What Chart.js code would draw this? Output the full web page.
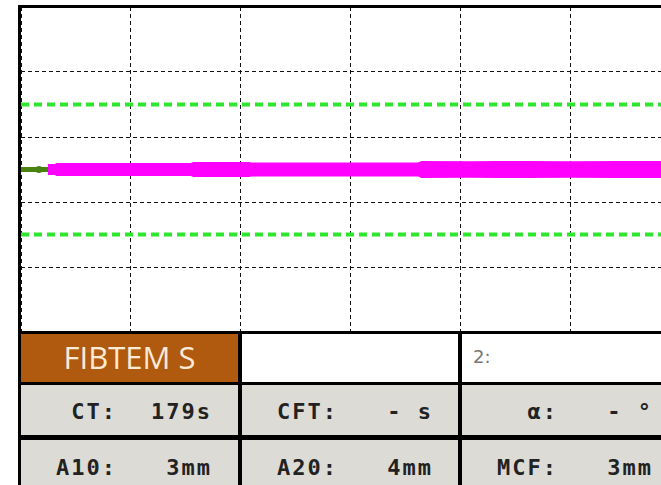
<!DOCTYPE html>
<html>
<head>
<meta charset="utf-8">
<script src="https://cdn.jsdelivr.net/npm/chart.js@4.4.1/dist/chart.umd.min.js"></script>
<style>
  body { margin: 0; background: #fff; }
  #wrap { position: relative; width: 661px; height: 485px; overflow: hidden; background: #fff; }
  #trace { position: absolute; left: 0; top: 0; }
  .blk { position: absolute; background: #000; }
  .cell { position: absolute; overflow: hidden; }
  .brown { background: #b05a10; }
  .white { background: #fff; }
  .gray { background: #dcdbd5; }
  .title { position: absolute; left: 0; width: 100%; text-align: center; font-family: "Open Sans", sans-serif; font-size: 31px; color: #fbead6; top: 2px; }
  .note { position: absolute; left: 11px; top: 12px; font-family: "DejaVu Sans", sans-serif; font-size: 18px; color: #777; }
  .lab, .val { position: absolute; font-family: "DejaVu Sans Mono", monospace; font-weight: bold; font-size: 22px; letter-spacing: 2px; color: #222; text-align: right; white-space: pre; }
</style>
</head>
<body>
<div id="wrap">
  <canvas id="trace" width="661" height="334"></canvas>
  <div class="blk" style="left:18px; top:331px; width:643px; height:154px;"></div>
  <div id="table"></div>
</div>
<script>
// time axis in seconds, amplitude in mm (mirrored round zero)
const xMax = 3491;
const xGrid = [0, 600, 1200, 1800, 2400, 3000];
const yGrid = [-50, -30, -10, 10, 30, 50];
const refLevels = [20, -20];

// before clotting starts
const preTime = [0, 98, 150];
const preAmp = [0, 0, 0];

// clot amplitude trace
const traceTime = [147, 185, 195, 930, 940, 1245, 1255, 2170, 2185, 2450, 2600, 2750, 3000, 3250, 3491];
const traceAmp = [2.7, 2.7, 3.4, 3.4, 4.0, 4.0, 3.7, 3.7, 4.6, 4.4, 4.6, 4.6, 4.5, 4.6, 4.6];

// result table
const testName = 'FIBTEM S';
const channel = '2:';
const rowLabels = [['CT:', 'CFT:', 'α:'], ['A10:', 'A20:', 'MCF:']];
const rowValues = [['179s', '- s', '- °'], ['3mm', '4mm', '3mm']];

const upper = traceTime.map((t, i) => ({ x: t, y: traceAmp[i] / 2 }));
const lower = traceTime.map((t, i) => ({ x: t, y: -traceAmp[i] / 2 }));
const pre = preTime.map((t, i) => ({ x: t, y: preAmp[i] }));

const frame = {
    id: 'frame',
    afterDraw(chart) {
        const ctx = chart.ctx;
        ctx.save();
        ctx.fillStyle = '#000';
        ctx.fillRect(18, 5, 3, chart.height);
        ctx.fillRect(18, 5, chart.width, 3);
        ctx.restore();
    }
};

new Chart(document.getElementById('trace'), {
    type: 'line',
    data: {
        datasets: [
            {
                data: upper,
                borderColor: '#ff00ff',
                backgroundColor: '#ff00ff',
                borderWidth: 2,
                pointRadius: 0,
                tension: 0,
                fill: '+1'
            },
            {
                data: lower,
                borderColor: '#ff00ff',
                backgroundColor: '#ff00ff',
                borderWidth: 2,
                pointRadius: 0,
                tension: 0,
                fill: false
            },
            {
                data: pre,
                borderColor: '#4a8210',
                backgroundColor: '#4a8210',
                borderWidth: 5,
                pointRadius: [0, 3.5, 0],
                pointBorderWidth: 0,
                fill: false
            },
            ...refLevels.map(v => ({
                data: [{ x: 0, y: v }, { x: xMax, y: v }],
                borderColor: '#2ee62e',
                borderWidth: 4,
                borderDash: [8, 5],
                pointRadius: 0,
                fill: false
            }))
        ]
    },
    options: {
        responsive: false,
        animation: false,
        events: [],
        layout: { padding: { left: 21, top: 7, right: 0, bottom: 2 } },
        plugins: { legend: { display: false }, tooltip: { enabled: false } },
        scales: {
            x: {
                type: 'linear',
                min: 0,
                max: xMax,
                afterBuildTicks: s => { s.ticks = xGrid.map(v => ({ value: v })); },
                ticks: { display: false },
                grid: { color: '#111', lineWidth: 1, drawTicks: false },
                border: { display: false, dash: [4, 3] }
            },
            y: {
                type: 'linear',
                min: -50,
                max: 50,
                afterBuildTicks: s => { s.ticks = yGrid.map(v => ({ value: v })); },
                ticks: { display: false },
                grid: { color: '#111', lineWidth: 1, drawTicks: false },
                border: { display: false, dash: [4, 3] }
            }
        }
    },
    plugins: [frame]
});

// table below the trace
const colLeft = [21, 242, 462];
const colWidth = [217, 216, 199];
const rowTop = [385, 440];
const rowHeight = [50, 45];
let html = '';
html += `<div class="cell brown" style="left:21px;top:334px;width:217px;height:48px;"><div class="title">${testName}</div></div>`;
html += `<div class="cell white" style="left:242px;top:334px;width:216px;height:48px;"></div>`;
html += `<div class="cell white" style="left:462px;top:334px;width:199px;height:48px;"><div class="note">${channel}</div></div>`;
for (let r = 0; r < 2; r++) {
    for (let c = 0; c < 3; c++) {
        html += `<div class="cell gray" style="left:${colLeft[c]}px;top:${rowTop[r]}px;width:${colWidth[c]}px;height:${rowHeight[r]}px;">` +
            `<div class="lab" style="right:${colWidth[c] - 96}px;top:${r === 0 ? 14 : 15}px;">${rowLabels[r][c]}</div>` +
            `<div class="val" style="right:${colWidth[c] - 191}px;top:${r === 0 ? 14 : 15}px;">${rowValues[r][c]}</div>` +
            `</div>`;
    }
}
document.getElementById('table').innerHTML = html;
</script>
</body>
</html>
